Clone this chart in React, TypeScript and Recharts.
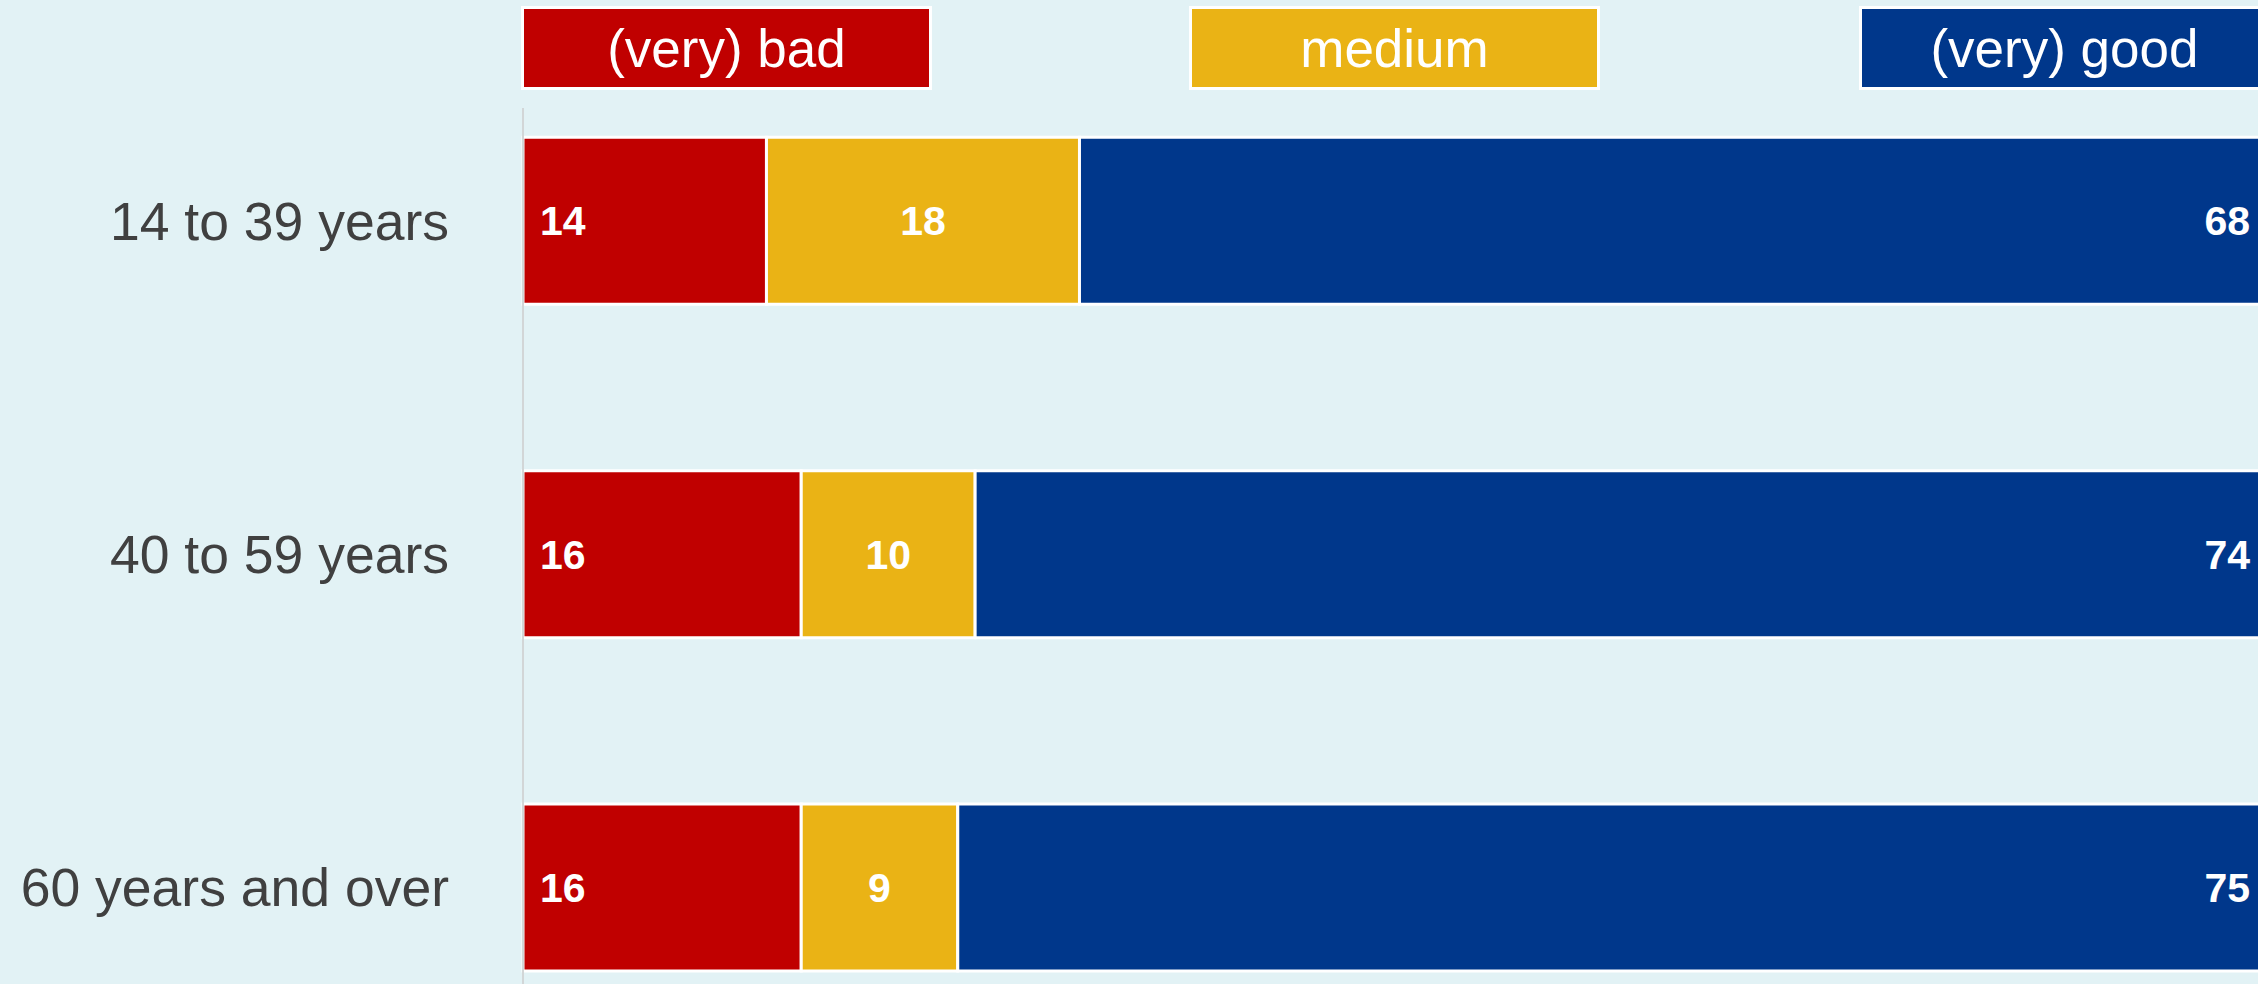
import React from 'react';
import { BarChart, Bar, XAxis, YAxis, Legend, LabelList } from 'recharts';

const categories = ['14 to 39 years', '40 to 59 years', '60 years and over'];
const badValues = [14, 16, 16];
const mediumValues = [18, 10, 9];
const goodValues = [68, 74, 75];
const seriesNames = ['(very) bad', 'medium', '(very) good'];
const seriesKeys = ['bad', 'medium', 'good'];
const seriesColors = ['#c00000', '#eab315', '#00378b'];

const data = categories.map((name, i) => ({
  name,
  bad: badValues[i],
  medium: mediumValues[i],
  good: goodValues[i],
}));

const FONT = '"Liberation Sans", Arial, Helvetica, sans-serif';
const BG = '#e2f2f5';

if (typeof document !== 'undefined') {
  document.body.style.margin = '0';
  document.body.style.background = BG;
  document.documentElement.style.background = BG;
}

const legendLefts = [521, 1189, 1859];

const LegendBoxes = () => (
  <div style={{ position: 'relative', height: 108, width: 2262 }}>
    {seriesNames.map((n, i) => (
      <div
        key={n}
        style={{
          position: 'absolute',
          left: legendLefts[i],
          top: 6,
          width: 411,
          height: 84,
          boxSizing: 'border-box',
          border: '3px solid #ffffff',
          background: seriesColors[i],
          color: '#ffffff',
          fontFamily: FONT,
          fontSize: 53,
          display: 'flex',
          alignItems: 'center',
          justifyContent: 'center',
          lineHeight: 1,
        }}
      >
        {n}
      </div>
    ))}
  </div>
);

export default function App() {
  return (
    <div
      style={{
        position: 'relative',
        width: 2258,
        height: 984,
        overflow: 'hidden',
        background: BG,
      }}
    >
      <BarChart
        layout="vertical"
        width={2262}
        height={1060}
        data={data}
        margin={{ top: 0, right: 0, bottom: 0, left: 0 }}
        barCategoryGap="25%"
        style={{ fontFamily: FONT }}
      >
        <Legend
          verticalAlign="top"
          align="left"
          content={<LegendBoxes />}
          wrapperStyle={{ left: 0, top: 0, width: 2262 }}
        />
        <XAxis type="number" domain={[0, 100]} hide />
        <YAxis
          type="category"
          dataKey="name"
          width={523}
          tickLine={false}
          tickSize={0}
          tickMargin={74}
          axisLine={{ stroke: '#d2d6d7', strokeWidth: 2 }}
          padding={{ top: -54, bottom: 6 }}
          tick={{ fill: '#404040', fontSize: 53.5, fontFamily: FONT }}
        />
        {seriesKeys.map((k, i) => (
          <Bar
            key={k}
            dataKey={k}
            name={seriesNames[i]}
            stackId="a"
            fill={seriesColors[i]}
            stroke="#ffffff"
            strokeWidth={3}
            isAnimationActive={false}
          >
            <LabelList
              dataKey={k}
              position={i === 0 ? 'insideLeft' : i === 1 ? 'center' : 'insideRight'}
              offset={i === 0 ? 17 : 12}
              fill="#ffffff"
              fontWeight="bold"
              fontSize={41}
              fontFamily={FONT}
            />
          </Bar>
        ))}
      </BarChart>
    </div>
  );
}
